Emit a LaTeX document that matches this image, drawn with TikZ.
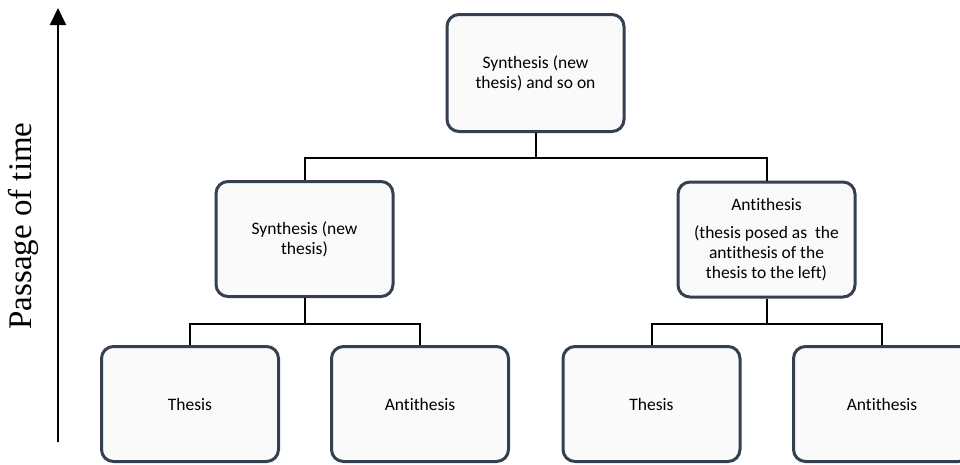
\documentclass[tikz,border=0pt]{standalone}
\usepackage{fontspec}
\setmainfont{Liberation Serif}
\newfontfamily\boxfont[Ligatures=NoCommon]{Carlito}
\usetikzlibrary{arrows.meta}
\definecolor{boxline}{HTML}{343F4F}
\definecolor{boxfill}{HTML}{FAFAFB}
\tikzset{
	stage/.style={draw=boxline, fill=boxfill, line width=3pt, rounded corners=12pt,
		minimum width=177pt, minimum height=115pt, align=center, inner sep=2pt,
		font=\boxfont\fontsize{17.5}{20}\selectfont},
	link/.style={line width=2pt, black}
}

\begin{document}
\begin{tikzpicture}[x=1pt, y=-1pt]
	\useasboundingbox (0,0) rectangle (960,464);
	\node[stage, minimum height=117pt] (top) at (535.5,73) {Synthesis (new\\thesis) and so on};
	\node[stage] (synL) at (304.5,239) {Synthesis (new\\thesis)};
	\node[stage] (antR) at (766.5,239.5) {Antithesis\\[8pt](thesis posed as\ \ the\\antithesis of the\\thesis to the left)};
	\node[stage] (thesL) at (190,404) {Thesis};
	\node[stage] (antL) at (420,404) {Antithesis};
	\node[stage] (thesR) at (651.5,404) {Thesis};
	\node[stage] (antRR) at (882,404) {Antithesis};
	\draw[link] (top.south) -- ++(0,24.5) -| (synL.north);
	\draw[link] (top.south) -- ++(0,24.5) -| (antR.north);
	\draw[link] (synL.south) -- ++(0,25.5) -| (thesL.north);
	\draw[link] (synL.south) -- ++(0,25.5) -| (antL.north);
	\draw[link] (antR.south) -- ++(0,25.5) -| (thesR.north);
	\draw[link] (antR.south) -- ++(0,25.5) -| (antRR.north);
	\coordinate (tstart) at (58,442);
	\coordinate (tend) at (58,8);
	\draw[line width=2pt, -{Triangle[width=16pt, length=17pt]}] (tstart) -- (tend);
	\node[rotate=90, font=\fontsize{33}{38}\selectfont] (time) at (23,226) {Passage of time};
\end{tikzpicture}
\end{document}
